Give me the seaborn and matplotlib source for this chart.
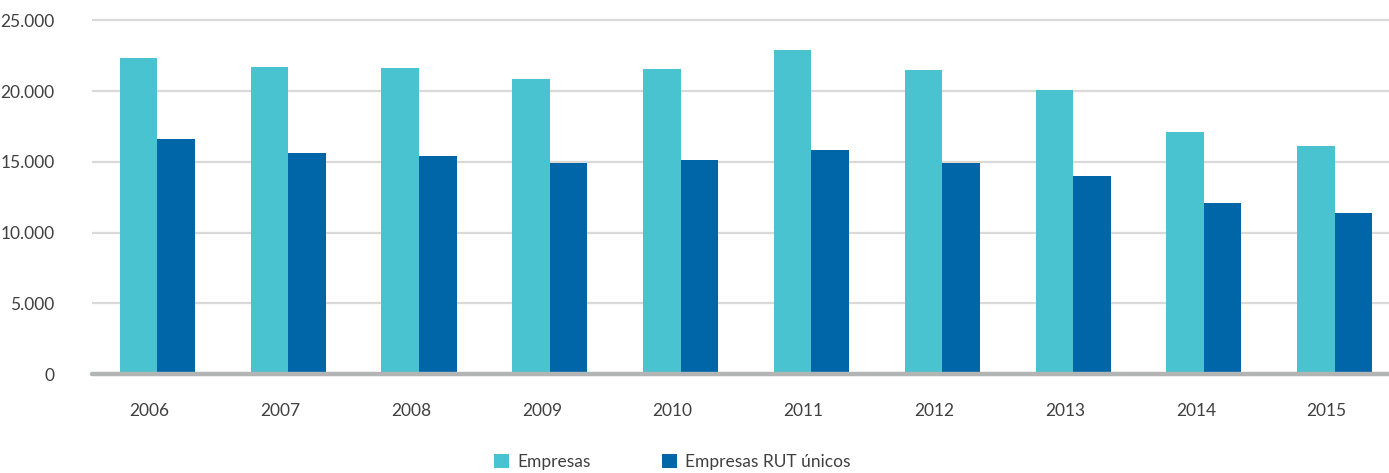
import matplotlib
matplotlib.use("Agg")
import matplotlib.pyplot as plt
import matplotlib.transforms as mtransforms
from matplotlib.ticker import FuncFormatter
import pandas as pd
import seaborn as sns

# data
years = ["2006", "2007", "2008", "2009", "2010", "2011", "2012", "2013", "2014", "2015"]
empresas = [22360, 21730, 21660, 20830, 21560, 22910, 21470, 20120, 17100, 16110]
empresas_rut = [16630, 15620, 15450, 14910, 15120, 15870, 14930, 13990, 12100, 11390]
series_names = ["Empresas", "Empresas RUT únicos"]
colors = ["#4AC3D1", "#0066A8"]

df = pd.DataFrame({
    "year": years * 2,
    "value": empresas + empresas_rut,
    "serie": [series_names[0]] * len(years) + [series_names[1]] * len(years),
})

sns.set_style("white")
plt.rcParams["font.family"] = ["Lato", "DejaVu Sans"]

fig = plt.figure(figsize=(13.89, 4.73), dpi=100)
ymax = 25300
top_px = 20.5
base_px = 374
h = (base_px - top_px) / 473 * ymax / 25000
ax = fig.add_axes([92 / 1389, (473 - base_px) / 473, 1 - 92 / 1389, h])

sns.barplot(data=df, x="year", y="value", hue="serie", palette=colors,
            width=0.574, gap=0, saturation=1, linewidth=0, ax=ax, legend=True)

ax.set_ylim(0, ymax)
ax.set_xlim(-0.5, 9.415)
ax.set_yticks([0, 5000, 10000, 15000, 20000, 25000])
ax.yaxis.set_major_formatter(FuncFormatter(lambda v, p: f"{int(v):,}".replace(",", ".")))
ax.grid(axis="y", color="#D9D9D9", linewidth=1.6)
ax.set_axisbelow(True)
ax.axhline(0, color="#B3B5B5", linewidth=3.2, clip_on=False, zorder=5)
for s in ax.spines.values():
    s.set_visible(False)
ax.set_xlabel("")
ax.set_ylabel("")
ax.tick_params(axis="both", length=0, labelsize=12.5, labelcolor="#404040")
ax.tick_params(axis="y", pad=27)
ax.tick_params(axis="x", pad=21)

# Excel places the year labels slightly left of the group centre
offset = mtransforms.ScaledTranslation(-8 / 100, 0, fig.dpi_scale_trans)
for lbl in ax.get_xticklabels():
    lbl.set_transform(lbl.get_transform() + offset)

handles, labels = ax.get_legend_handles_labels()
ax.legend(handles, labels, ncol=2, frameon=False, loc="center",
          bbox_to_anchor=(672 / 1389, 1 - 462 / 473), bbox_transform=fig.transFigure,
          handlelength=0.9, handleheight=0.9, handletextpad=0.45, columnspacing=4.1,
          fontsize=12.5, labelcolor="#404040")

fig.savefig("out.png", dpi=100)
